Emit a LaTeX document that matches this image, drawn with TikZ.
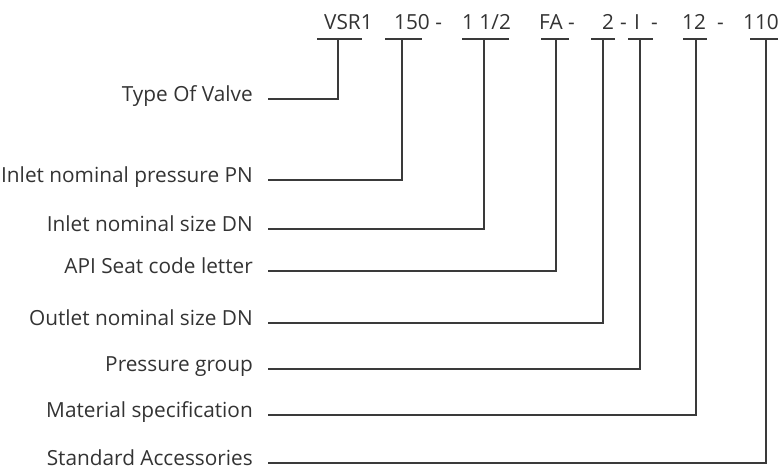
\documentclass[tikz,border=0pt]{standalone}
\usepackage{fontspec}
\setmainfont{Open Sans}
\begin{document}
\begin{tikzpicture}[x=1pt,y=-1pt,
  lbl/.style={anchor=mid east,inner sep=0pt,text=txtc,font=\fontsize{20.8}{25}\selectfont},
  code/.style={anchor=base west,inner sep=0pt,text=txtc,font=\fontsize{20.8}{25}\selectfont},
  conn/.style={draw=linec,line width=1.3pt},
  uline/.style={draw=linec,line width=1.3pt}]
\definecolor{txtc}{HTML}{333333}
\definecolor{linec}{HTML}{3A3A3A}
\useasboundingbox (0,0) rectangle (780,476);

% code letters
\node[code] (c1) at (324,30) {VSR1};
\node[code] (c2) at (394,30) {150 -};
\node[code] (c3) at (462,30) {1 1/2};
\node[code] (c4) at (539,30) {FA -};
\node[code] (c5) at (602,30) {2};
\node[code] (c5d) at (620,30) {-};
\node[code] (c6) at (634,30) {I};
\node[code] (c6d) at (651,30) {-};
\node[code] (c7) at (682,30) {12};
\node[code] (c8) at (717,30) {-};
\node[code,anchor=base east] (c9) at (779,30) {110};

% stem tops
\coordinate (s1) at (338,39);
\coordinate (s2) at (402,39);
\coordinate (s3) at (484,39);
\coordinate (s4) at (556,39);
\coordinate (s5) at (603,39);
\coordinate (s6) at (640,39);
\coordinate (s7) at (696,39);
\coordinate (s8) at (766,39);

% underlines
\draw[uline] (317,39) -- (362,39);
\draw[uline] (385,39) -- (422,39);
\draw[uline] (462,39) -- (509,39);
\draw[uline] (541,39) -- (569,39);
\draw[uline] (591,39) -- (615,39);
\draw[uline] (628,39) -- (653,39);
\draw[uline] (683,39) -- (707,39);
\draw[uline] (750,39) -- (778,39);

% labels
\node[lbl] (l1) at (253,99) {Type Of Valve};
\node[lbl] (l2) at (253,180) {Inlet nominal pressure PN};
\node[lbl] (l3) at (253,229) {Inlet nominal size DN};
\node[lbl] (l4) at (253,271) {API Seat code letter};
\node[lbl] (l5) at (253,323) {Outlet nominal size DN};
\node[lbl] (l6) at (253,369) {Pressure group};
\node[lbl] (l7) at (253,415) {Material specification};
\node[lbl] (l8) at (253,463) {Standard Accessories};

% connectors
\foreach \i in {1,...,8}{
  \draw[conn] ([xshift=15pt]l\i.mid east) -| (s\i);
}
\end{tikzpicture}
\end{document}
